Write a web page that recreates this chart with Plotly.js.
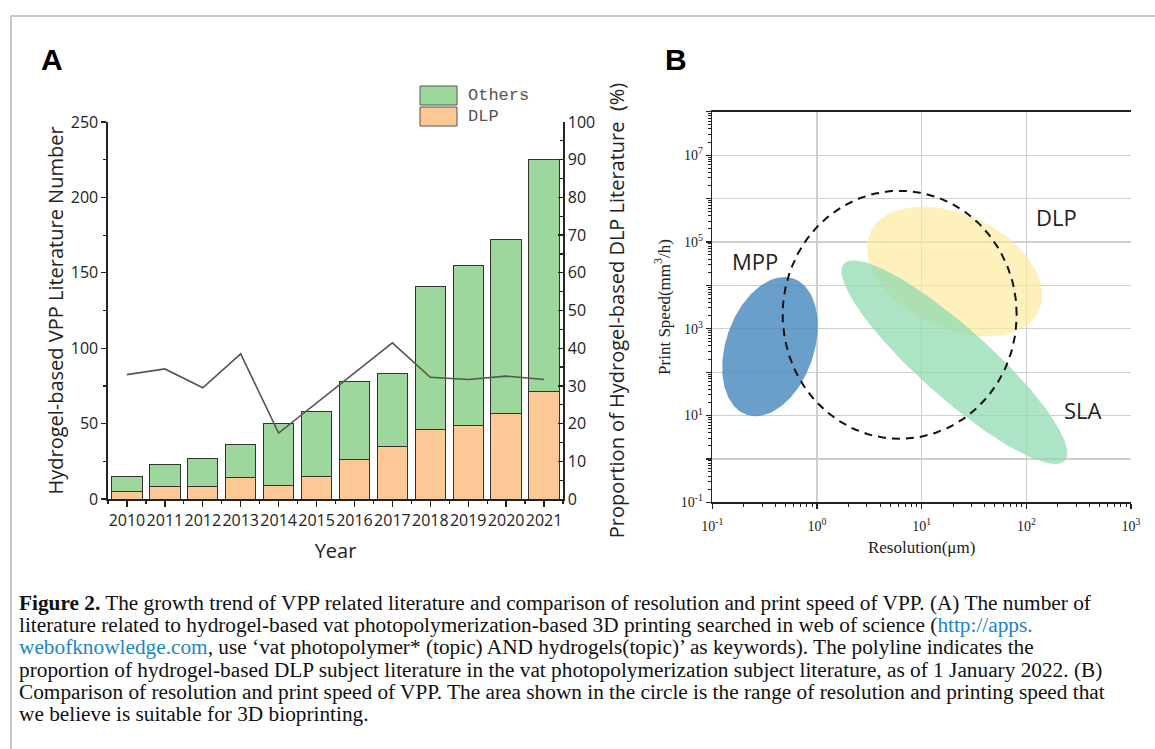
<!DOCTYPE html>
<html>
<head>
<meta charset="utf-8">
<script src="https://cdn.plot.ly/plotly-3.0.1.min.js"></script>
<style>
html,body{margin:0;padding:0;background:#fff;}
#chart{width:1155px;height:749px;}
</style>
</head>
<body>
<div id="chart"></div>
<script>
// ---------- Panel A data ----------
const years = [2010,2011,2012,2013,2014,2015,2016,2017,2018,2019,2020,2021];
const dlpCounts = [5,8,8,14,9,15,26,35,46,49,57,71];
const othersCounts = [10,15,19,22,41,43,52,48,95,106,115,154];
const dlpProportion = [33.0,34.5,29.5,38.5,17.5,25.5,33.4,41.4,32.3,31.7,32.6,31.7];
const leftTicks = [0,50,100,150,200,250];
const rightTicks = [0,10,20,30,40,50,60,70,80,90,100];

// ---------- Panel B data (ellipses in log10 space; semi-axes in screen px, angle in deg) ----------
const regionNames = ['DLP','SLA','MPP'];
const regionCenterLogRes = [1.315, 1.313, -0.449];
const regionCenterLogSpeed = [4.319, 2.229, 2.587];
const regionSemiMajor = [93, 148, 72];
const regionSemiMinor = [57, 35, 44];
const regionAngle = [-25, -41.7, 71];
const bioCircleCenter = [0.79, 3.32];
const bioCircleSemi = [117, 124];
const labelLogRes = [2.29, 2.54, -0.59];
const labelLogSpeed = [5.57, 1.13, 4.55];
const resTicks = [0.1,1,10,100,1000];
const resTickText = ['10<sup>-1</sup>','10<sup>0</sup>','10<sup>1</sup>','10<sup>2</sup>','10<sup>3</sup>'];
const speedTicks = [0.1,1,10,100,1000,1e4,1e5,1e6,1e7,1e8];
const speedTickText = ['10<sup>-1</sup>','','10<sup>1</sup>','','10<sup>3</sup>','','10<sup>5</sup>','','10<sup>7</sup>',''];

// ---------- layout geometry ----------
const W = 1155, H = 749;
const px = v => v / W;
const py = v => 1 - v / H;
const bXdom = [px(712.3), px(1131)];
const bYdom = [py(502.3), py(111.7)];
const bXrange = [-1, 3];
const bYrange = [-1, 8];
const kx = (bXdom[1]-bXdom[0]) * W / (bXrange[1]-bXrange[0]);
const ky = (bYdom[1]-bYdom[0]) * H / (bYrange[1]-bYrange[0]);

function ellipse(cx, cy, a, b, deg){
  const t = deg*Math.PI/180, xs=[], ys=[];
  for(let i=0;i<=180;i++){
    const p = i/180*2*Math.PI;
    const dx = a*Math.cos(t)*Math.cos(p) - b*Math.sin(t)*Math.sin(p);
    const dy = a*Math.sin(t)*Math.cos(p) + b*Math.cos(t)*Math.sin(p);
    xs.push(Math.pow(10, cx + dx/kx));
    ys.push(Math.pow(10, cy + dy/ky));
  }
  return {x:xs, y:ys};
}

const fills = ['rgba(253,233,150,0.65)','rgba(140,218,175,0.72)','rgba(70,135,190,0.8)'];

const traces = [
  {type:'bar', x:years, y:dlpCounts, name:'DLP', xaxis:'x', yaxis:'y', width:0.8,
   marker:{color:'#fbc896', line:{color:'#333', width:1}}, showlegend:false},
  {type:'bar', x:years, y:othersCounts, name:'Others', xaxis:'x', yaxis:'y', width:0.8,
   marker:{color:'#9dd79b', line:{color:'#333', width:1}}, showlegend:false},
  {type:'scatter', mode:'lines', x:years, y:dlpProportion, xaxis:'x', yaxis:'y2',
   line:{color:'#555', width:1.6}, showlegend:false}
];
regionNames.forEach((n,i)=>{
  const e = ellipse(regionCenterLogRes[i], regionCenterLogSpeed[i], regionSemiMajor[i], regionSemiMinor[i], regionAngle[i]);
  traces.push({type:'scatter', mode:'lines', x:e.x, y:e.y, fill:'toself', fillcolor:fills[i],
    line:{width:0, color:'rgba(0,0,0,0)'}, xaxis:'x3', yaxis:'y3', name:n, showlegend:false, hoverinfo:'skip'});
});
const circ = ellipse(bioCircleCenter[0], bioCircleCenter[1], bioCircleSemi[0], bioCircleSemi[1], 0);
traces.push({type:'scatter', mode:'lines', x:circ.x, y:circ.y, xaxis:'x3', yaxis:'y3',
  line:{color:'#111', width:2, dash:'8px,6px'}, showlegend:false, hoverinfo:'skip'});

const sans = 'Open Sans, Segoe UI, sans-serif';
const serif = 'Liberation Serif, Times New Roman, serif';

const layout = {
  width: W, height: H,
  margin:{l:0,r:0,t:0,b:0},
  paper_bgcolor:'#fff', plot_bgcolor:'rgba(0,0,0,0)',
  barmode:'stack', bargap:0.2,
  showlegend:false,
  xaxis:{domain:[px(108), px(563)], anchor:'y', range:[2009.5,2021.5],
    tickmode:'array', tickvals:years, ticktext:years.map(String), tickangle:0,
    ticks:'outside', ticklen:6, tickwidth:1.3, tickcolor:'#222',
    minor:{tickmode:'linear', tick0:2009.5, dtick:1, ticks:'outside', ticklen:3, tickwidth:1.2, tickcolor:'#222'},
    showline:true, linecolor:'#222', linewidth:1.6, showgrid:false, zeroline:false,
    tickfont:{family:sans, size:16, color:'#222'},
    title:{text:'Year', font:{family:sans, size:20, color:'#222'}, standoff:14}},
  yaxis:{domain:[py(499), py(122)], anchor:'x', range:[0,250],
    tickmode:'array', tickvals:leftTicks,
    ticks:'outside', ticklen:5, tickwidth:1.3, tickcolor:'#222',
    minor:{tickmode:'linear', tick0:0, dtick:25, ticks:'outside', ticklen:3, tickwidth:1.2, tickcolor:'#222'},
    showline:true, linecolor:'#222', linewidth:1.6, showgrid:false, zeroline:false,
    tickfont:{family:sans, size:16, color:'#222'},
    title:{text:'Hydrogel-based VPP Literature Number', font:{family:sans, size:20, color:'#222'}, standoff:2}},
  yaxis2:{overlaying:'y', side:'right', anchor:'x', range:[0,100],
    tickmode:'array', tickvals:rightTicks,
    ticks:'inside', ticklen:5, tickwidth:1.3, tickcolor:'#222',
    minor:{tickmode:'linear', tick0:0, dtick:5, ticks:'inside', ticklen:3, tickwidth:1.2, tickcolor:'#222'},
    showline:true, linecolor:'#222', linewidth:1.6, showgrid:false, zeroline:false,
    tickfont:{family:sans, size:16, color:'#222'},
    title:{text:'Proportion of Hydrogel-based DLP Literature  (%)', font:{family:sans, size:20, color:'#222'}, standoff:16}},
  xaxis3:{domain:bXdom, anchor:'y3', type:'log', range:bXrange,
    tickmode:'array', tickvals:resTicks, ticktext:resTickText,
    ticks:'outside', ticklen:5, tickwidth:1.2, tickcolor:'#222', ticklabelstandoff:5,
    minor:{dtick:'D1', ticks:'outside', ticklen:3, tickwidth:1, tickcolor:'#222', showgrid:false},
    showline:true, mirror:true, linecolor:'#222', linewidth:1.5,
    showgrid:true, gridcolor:'#cfcfcf', gridwidth:1.2, zeroline:false,
    tickfont:{family:serif, size:14, color:'#222'},
    title:{text:'Resolution(μm)', font:{family:serif, size:17, color:'#222'}, standoff:8}},
  yaxis3:{domain:bYdom, anchor:'x3', type:'log', range:bYrange,
    tickmode:'array', tickvals:speedTicks, ticktext:speedTickText,
    ticks:'outside', ticklen:5, tickwidth:1.2, tickcolor:'#222',
    minor:{dtick:'D1', ticks:'outside', ticklen:3, tickwidth:1, tickcolor:'#222', showgrid:false},
    showline:true, linecolor:'#222', linewidth:1.5,
    showgrid:true, gridcolor:'#cfcfcf', gridwidth:1.2, zeroline:false,
    tickfont:{family:serif, size:14, color:'#222'},
    title:{text:'Print Speed(mm<sup>3</sup>/h)', font:{family:serif, size:17, color:'#222'}, standoff:6}},
  shapes:[
    {type:'rect', xref:'paper', yref:'paper', x0:px(11), x1:1.02, y0:-0.02, y1:py(16),
     line:{color:'#c8c8c8', width:2}, fillcolor:'rgba(0,0,0,0)', layer:'below'},
    {type:'rect', xref:'paper', yref:'paper', x0:px(420), x1:px(457), y0:py(105), y1:py(86),
     line:{color:'#555', width:1}, fillcolor:'#9dd79b'},
    {type:'rect', xref:'paper', yref:'paper', x0:px(420), x1:px(457), y0:py(126), y1:py(107),
     line:{color:'#555', width:1}, fillcolor:'#fbc896'}
  ],
  annotations:[
    {xref:'paper', yref:'paper', x:px(466), y:py(96), xanchor:'left', yanchor:'middle', showarrow:false,
     text:'Others', font:{family:'Liberation Mono, monospace', size:17, color:'#555'}},
    {xref:'paper', yref:'paper', x:px(466), y:py(117), xanchor:'left', yanchor:'middle', showarrow:false,
     text:'DLP', font:{family:'Liberation Mono, monospace', size:17, color:'#555'}},
    {xref:'paper', yref:'paper', x:px(52), y:py(60), xanchor:'center', yanchor:'middle', showarrow:false,
     text:'<b>A</b>', font:{family:'Liberation Sans, Arial, sans-serif', size:30, color:'#000'}},
    {xref:'paper', yref:'paper', x:px(676), y:py(60), xanchor:'center', yanchor:'middle', showarrow:false,
     text:'<b>B</b>', font:{family:'Liberation Sans, Arial, sans-serif', size:30, color:'#000'}}
  ]
};
regionNames.forEach((n,i)=>{
  layout.annotations.push({xref:'x3', yref:'y3', x:labelLogRes[i], y:labelLogSpeed[i], showarrow:false,
    text:n, font:{family:sans, size:22, color:'#222'}});
});

const link = s => "<span style='color:#1a86c8'>"+s+"</span>";
const captionLines = [
  "<b>Figure 2.</b> The growth trend of VPP related literature and comparison of resolution and print speed of VPP. (A) The number of",
  "literature related to hydrogel-based vat photopolymerization-based 3D printing searched in web of science ("+link('http://apps.'),
  link('webofknowledge.com')+", use ‘vat photopolymer* (topic) AND hydrogels(topic)’ as keywords). The polyline indicates the",
  "proportion of hydrogel-based DLP subject literature in the vat photopolymerization subject literature, as of 1 January 2022. (B)",
  "Comparison of resolution and print speed of VPP. The area shown in the circle is the range of resolution and printing speed that",
  "we believe is suitable for 3D bioprinting."
];
const captionY = [603, 625, 647, 670, 692, 714];
captionLines.forEach((t,i)=>{
  layout.annotations.push({xref:'paper', yref:'paper', x:px(17), y:py(captionY[i]), xanchor:'left', yanchor:'middle',
    showarrow:false, text:t, font:{family:serif, size:21.3, color:'#111'}});
});

Plotly.newPlot('chart', traces, layout, {displayModeBar:false, staticPlot:true});
</script>
</body>
</html>
